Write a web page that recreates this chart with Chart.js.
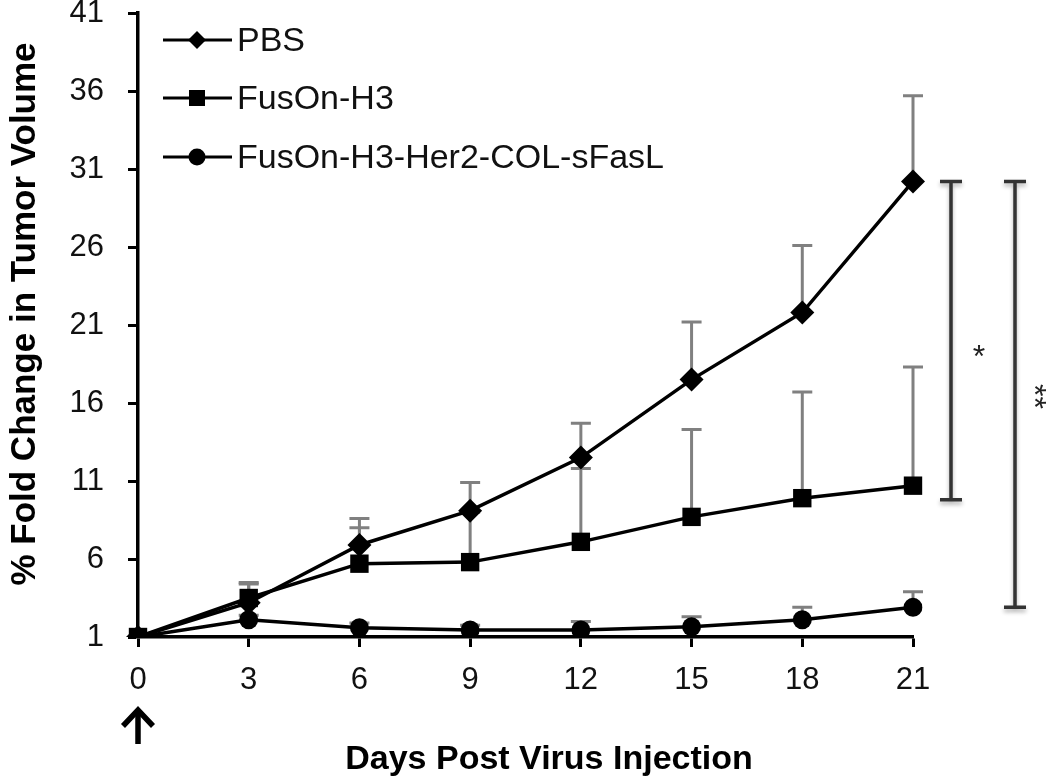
<!DOCTYPE html>
<html>
<head>
<meta charset="utf-8">
<script src="https://cdn.jsdelivr.net/npm/chart.js"></script>
<style>
  html, body { margin: 0; padding: 0; background: #fff; }
  #wrap { width: 1050px; height: 783px; }
</style>
</head>
<body>
<div id="wrap"><canvas id="tumorChart" width="1050" height="783"></canvas></div>
<script>
// data
const days = ['0', '3', '6', '9', '12', '15', '18', '21'];
const seriesNames = ['PBS', 'FusOn-H3', 'FusOn-H3-Her2-COL-sFasL'];
const pbsMean   = [1, 3.2, 6.9, 9.1, 12.5, 17.5, 21.8, 30.2];
const pbsErr    = [0, 1.3, 1.7, 1.8, 2.2, 3.7, 4.3, 5.5];
const fusMean   = [1, 3.5, 5.7, 5.8, 7.1, 8.7, 9.9, 10.7];
const fusErr    = [0, 0.9, 2.3, 3.2, 4.7, 5.6, 6.8, 7.6];
const fasMean   = [1, 2.1, 1.6, 1.45, 1.45, 1.65, 2.1, 2.9];
const fasErr    = [0, 0.3, 0.3, 0.3, 0.55, 0.65, 0.8, 1.0];
const yTicks    = [1, 6, 11, 16, 21, 26, 31, 36, 41];
// significance brackets: top, bottom, label
const sigTop    = [30.2, 30.2];
const sigBottom = [9.8, 2.9];
const sigLabel  = ['*', '**'];

const FONT = '"Liberation Sans", Arial, Helvetica, sans-serif';
const errors = [pbsErr, fusErr, fasErr];

// gray error bars (upper only), drawn under the lines
const errorBars = {
    id: 'errorBars',
    beforeDatasetsDraw(chart) {
        const ctx = chart.ctx, y = chart.scales.y;
        ctx.save();
        ctx.strokeStyle = '#808080';
        ctx.lineWidth = 3;
        chart.data.datasets.forEach((ds, i) => {
            const meta = chart.getDatasetMeta(i);
            meta.data.forEach((pt, j) => {
                const e = errors[i][j];
                if (!e) return;
                const top = y.getPixelForValue(ds.data[j] + e);
                ctx.beginPath();
                ctx.moveTo(pt.x, pt.y);
                ctx.lineTo(pt.x, top);
                ctx.moveTo(pt.x - 10, top);
                ctx.lineTo(pt.x + 10, top);
                ctx.stroke();
            });
        });
        ctx.restore();
    }
};

function marker(ctx, style, x, y, r) {
    ctx.beginPath();
    if (style === 'rectRot') {
        ctx.moveTo(x, y - r); ctx.lineTo(x + r, y); ctx.lineTo(x, y + r); ctx.lineTo(x - r, y);
        ctx.closePath();
    } else if (style === 'rect') {
        ctx.rect(x - r, y - r, 2 * r, 2 * r);
    } else {
        ctx.arc(x, y, r, 0, Math.PI * 2);
    }
    ctx.fill();
}

// legend, titles, arrow and significance brackets
const extras = {
    id: 'extras',
    afterDraw(chart) {
        const ctx = chart.ctx, y = chart.scales.y, area = chart.chartArea;
        ctx.save();
        // legend
        const rows = [40, 98, 157];
        const legendMarks = [['rectRot', 9], ['rect', 8], ['circle', 8.5]];
        ctx.font = '34px ' + FONT;
        ctx.textBaseline = 'middle';
        chart.data.datasets.forEach((ds, i) => {
            ctx.strokeStyle = '#000';
            ctx.lineWidth = 3;
            ctx.beginPath();
            ctx.moveTo(163, rows[i]);
            ctx.lineTo(232, rows[i]);
            ctx.stroke();
            ctx.fillStyle = '#000';
            marker(ctx, legendMarks[i][0], 197, rows[i], legendMarks[i][1]);
            ctx.fillStyle = '#111';
            ctx.fillText(ds.label, 237, rows[i] + 2);
        });

        // axis titles
        ctx.fillStyle = '#000';
        ctx.textAlign = 'center';
        ctx.textBaseline = 'middle';
        ctx.font = 'bold 34px ' + FONT;
        ctx.fillText('Days Post Virus Injection', 549, 760);
        ctx.save();
        ctx.font = 'bold 35px ' + FONT;
        ctx.translate(25, 314);
        ctx.rotate(-Math.PI / 2);
        ctx.fillText('% Fold Change in Tumor Volume', 0, 0);
        ctx.restore();

        // injection arrow under day 0
        const ax = chart.scales.x.getPixelForValue(0);
        ctx.strokeStyle = '#000';
        ctx.lineWidth = 5.5;
        ctx.beginPath();
        ctx.moveTo(ax, 744);
        ctx.lineTo(ax, 709);
        ctx.stroke();
        ctx.beginPath();
        ctx.moveTo(ax - 15, 726);
        ctx.lineTo(ax, 710);
        ctx.lineTo(ax + 15, 726);
        ctx.stroke();

        // significance brackets
        const bx = [area.right + 38, area.right + 102];
        ctx.strokeStyle = '#333';
        ctx.lineWidth = 3.5;
        ctx.shadowColor = 'rgba(0,0,0,0.3)';
        ctx.shadowBlur = 4;
        ctx.shadowOffsetY = 3;
        sigTop.forEach((t, k) => {
            const y1 = y.getPixelForValue(t), y2 = y.getPixelForValue(sigBottom[k]);
            ctx.beginPath();
            ctx.moveTo(bx[k], y1); ctx.lineTo(bx[k], y2);
            ctx.moveTo(bx[k] - 11, y1); ctx.lineTo(bx[k] + 11, y1);
            ctx.moveTo(bx[k] - 11, y2); ctx.lineTo(bx[k] + 11, y2);
            ctx.stroke();
        });
        ctx.shadowColor = 'transparent';
        ctx.fillStyle = '#222';
        ctx.font = '32px ' + FONT;
        const mid0 = (y.getPixelForValue(sigTop[0]) + y.getPixelForValue(sigBottom[0])) / 2;
        ctx.fillText(sigLabel[0], bx[0] + 28, mid0 + 18);
        const mid1 = (y.getPixelForValue(sigTop[1]) + y.getPixelForValue(sigBottom[1])) / 2;
        ctx.save();
        ctx.translate(bx[1] + 18, mid1 + 2);
        ctx.rotate(Math.PI / 2);
        ctx.fillText(sigLabel[1], 0, 0);
        ctx.restore();
        ctx.restore();
    }
};

const ctx = document.getElementById('tumorChart').getContext('2d');
const tumorChart = new Chart(ctx, {
    type: 'line',
    data: {
        labels: days,
        datasets: [
            { label: seriesNames[0], data: pbsMean, pointStyle: 'rectRot', pointRadius: 12 },
            { label: seriesNames[1], data: fusMean, pointStyle: 'rect', pointRadius: 13 },
            { label: seriesNames[2], data: fasMean, pointStyle: 'circle', pointRadius: 9.5 }
        ].map(d => Object.assign(d, {
            borderColor: '#000',
            backgroundColor: '#000',
            pointBackgroundColor: '#000',
            pointBorderColor: '#000',
            pointBorderWidth: 0,
            borderWidth: 3.5,
            tension: 0
        }))
    },
    options: {
        responsive: false,
        animation: false,
        layout: { padding: { left: 0, right: 137, top: 11, bottom: 0 } },
        plugins: {
            legend: { display: false },
            tooltip: { enabled: false }
        },
        scales: {
            x: {
                type: 'category',
                offset: false,
                grid: { drawOnChartArea: false, drawTicks: true, tickLength: 10, tickWidth: 3, tickColor: '#000' },
                border: { color: '#000', width: 3.5 },
                ticks: { color: '#111', font: { family: FONT, size: 31 }, padding: 15, maxRotation: 0 },
                afterFit(s) { s.height = 146; s.paddingLeft = 0; s.paddingRight = 0; }
            },
            y: {
                min: 1,
                max: 41,
                afterBuildTicks(s) { s.ticks = yTicks.map(v => ({ value: v })); },
                grid: { drawOnChartArea: false, drawTicks: true, tickLength: 10, tickWidth: 3, tickColor: '#000' },
                border: { color: '#000', width: 3.5 },
                ticks: { color: '#111', font: { family: FONT, size: 31 }, padding: 24 },
                afterFit(s) { s.width = 138; s.paddingTop = 0; s.paddingBottom = 0; }
            }
        }
    },
    plugins: [errorBars, extras]
});
</script>
</body>
</html>
